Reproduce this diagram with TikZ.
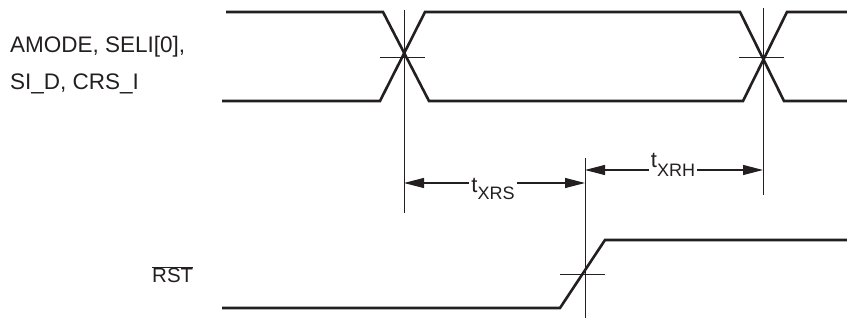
\documentclass[tikz,border=0pt]{standalone}
\usepackage{fontspec}
\setmainfont{Liberation Sans}
\usetikzlibrary{arrows.meta}
\definecolor{ink}{HTML}{231F20}
\begin{document}
\begin{tikzpicture}[x=1pt,y=-1pt,
  signal/.style={line width=2.6pt, line join=miter, ink},
  guide/.style={line width=0.9pt, ink},
  dim/.style={line width=1.1pt, ink, {Triangle[length=20pt,width=10pt]}-{Triangle[length=20pt,width=10pt]}},
  siglabel/.style={font=\fontsize{22.5}{22.5}\selectfont, text=ink, anchor=base west, inner sep=0pt},
  tlabel/.style={font=\fontsize{22}{22}\selectfont, text=ink, fill=white, anchor=base, inner xsep=2pt, inner ysep=1pt}]
\useasboundingbox (0,0) rectangle (847,320);
% signal labels
\node[siglabel] (l1) at (10,53) {AMODE, SELI[0],};
\node[siglabel] (l2) at (10,90) {SI\_D, CRS\_I};
\node[siglabel, font=\fontsize{20.5}{20.5}\selectfont] (l3) at (152,283) {$\overline{\mbox{RST}}$};
% data bus
\draw[signal] (226,12) -- (383,12) -- (429,101) -- (743,101) -- (787,12) -- (847,12);
\draw[signal] (222,101) -- (380,101) -- (425,12) -- (740,12) -- (784,101) -- (847,101);
% RST
\draw[signal] (222,308) -- (560,308) -- (605,240) -- (847,240);
% crossing marks
\draw[guide] (380,57) -- (425,57);
\draw[guide] (739,57) -- (784,57);
\draw[guide] (560,274) -- (605,274);
% vertical reference lines
\coordinate (v1t) at (404,10);  \coordinate (v1b) at (404,213);
\coordinate (v2t) at (763,8);   \coordinate (v2b) at (763,195);
\coordinate (v3t) at (585,158); \coordinate (v3b) at (585,318);
\draw[guide] (v1t) -- (v1b);
\draw[guide] (v2t) -- (v2b);
\draw[guide] (v3t) -- (v3b);
% dimension arrows
\coordinate (a1) at (404,183); \coordinate (a2) at (585,183);
\coordinate (b1) at (585,170); \coordinate (b2) at (763,170);
\draw[dim] (a1) -- (a2);
\draw[dim] (b1) -- (b2);
\node[tlabel] (txrs) at (493,193) {t\raisebox{-7pt}{\fontsize{18}{18}\selectfont XRS}};
\node[tlabel] (txrh) at (673,168) {t\raisebox{-9pt}{\fontsize{18}{18}\selectfont XRH}};
\end{tikzpicture}
\end{document}
